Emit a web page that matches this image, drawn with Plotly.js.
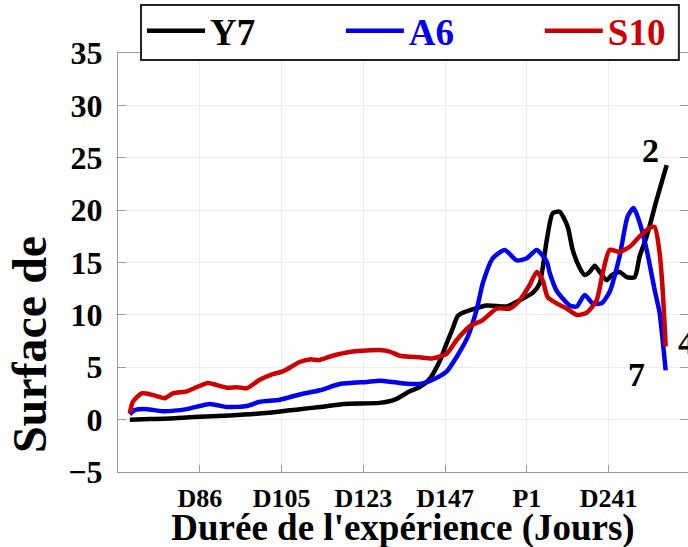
<!DOCTYPE html>
<html>
<head>
<meta charset="utf-8">
<script src="https://cdn.plot.ly/plotly-3.0.1.min.js"></script>
<style>html,body{margin:0;padding:0;background:#fff;overflow:hidden;}#chart{width:688px;height:549px;}</style>
</head>
<body>
<div id="chart"></div>
<script>
// Tick positions and labels (sampling days)
const tickPositions = [1, 2, 3, 4, 5, 6];
const tickLabels = ['D86', 'D105', 'D123', 'D147', 'P1', 'D241'];

// Series Y7 (black)
const xY7 = [0.144,0.389,0.633,0.927,1.367,1.844,2.222,2.467,2.760,3.200,3.384,3.567,3.689,3.812,3.934,4.020,4.093,4.154,4.215,4.509,4.753,4.912,5.071,5.156,5.242,5.315,5.401,5.499,5.560,5.645,5.707,5.768,5.829,5.890,5.976,6.037,6.134,6.220,6.318,6.379,6.465,6.587,6.709];
const yY7 = [0.0,0.05,0.1,0.25,0.4,0.65,1.0,1.2,1.5,1.6,1.9,2.7,3.1,3.9,5.6,7.3,8.7,9.9,10.2,10.9,10.8,11.4,12.1,13.0,17.1,19.7,19.85,18.4,16.2,14.5,13.8,14.1,14.7,14.1,13.3,13.8,14.1,13.6,13.6,15.6,17.5,21.0,24.3];

// Series A6 (blue)
const xA6 = [0.144,0.205,0.352,0.548,0.841,1.122,1.330,1.575,1.733,1.978,2.222,2.467,2.711,3.042,3.200,3.445,3.689,3.848,4.020,4.142,4.276,4.386,4.460,4.582,4.729,4.875,4.998,5.120,5.242,5.279,5.364,5.523,5.609,5.707,5.804,5.914,6.012,6.134,6.232,6.306,6.379,6.465,6.562,6.623,6.660,6.697];
const yA6 = [0.5,0.9,1.0,0.8,1.0,1.5,1.2,1.3,1.7,1.9,2.4,2.8,3.4,3.6,3.7,3.5,3.4,3.8,4.6,6.0,7.9,10.5,13.0,15.4,16.2,15.2,15.4,16.2,15.1,14.0,12.3,10.9,10.8,11.9,11.1,11.1,12.2,15.6,19.4,20.2,18.8,16.2,12.4,10.2,7.6,4.7];

// Series S10 (red)
const xS10 = [0.144,0.181,0.291,0.425,0.572,0.670,0.841,0.963,1.098,1.208,1.330,1.452,1.575,1.733,1.892,2.015,2.222,2.345,2.467,2.626,2.870,3.200,3.323,3.445,3.689,3.848,4.020,4.142,4.301,4.460,4.631,4.790,4.912,5.034,5.120,5.193,5.254,5.364,5.487,5.609,5.731,5.853,5.927,6.012,6.134,6.257,6.379,6.501,6.562,6.623,6.660,6.697];
const yS10 = [0.6,1.7,2.5,2.35,2.05,2.5,2.7,3.1,3.5,3.3,3.05,3.1,3.0,3.8,4.35,4.6,5.5,5.75,5.7,6.1,6.5,6.65,6.5,6.1,5.95,5.85,6.3,7.6,8.9,9.5,10.6,10.6,11.4,12.85,14.1,13.3,11.7,11.1,10.6,10.0,10.2,11.4,14.0,16.2,16.0,16.5,17.5,18.3,18.4,15.9,12.4,7.0];

// End-of-line labels
const endLabels = ['2', '4', '7'];
const endLabelX = [6.513, 6.954, 6.342];
const endLabelY = [25.7, 7.4, 4.3];

const serif = '"Liberation Serif", "Times New Roman", serif';

const traces = [
  {x: xY7, y: yY7, name: '<span style="color:#000000">Y7</span>', legend: 'legend', mode: 'lines', line: {color: '#000000', width: 4.5, shape: 'spline', smoothing: 0.6}},
  {x: xA6, y: yA6, name: '<span style="color:#0000ee">A6</span>', legend: 'legend2', mode: 'lines', line: {color: '#0000ee', width: 4.5, shape: 'spline', smoothing: 0.6}},
  {x: xS10, y: yS10, name: '<span style="color:#cc0000">S10</span>', legend: 'legend3', mode: 'lines', line: {color: '#cc0000', width: 4.5, shape: 'spline', smoothing: 0.6}}
];

const annotations = endLabels.map((t, i) => ({
  x: endLabelX[i], y: endLabelY[i], xref: 'x', yref: 'y', text: t, showarrow: false,
  xanchor: 'center', yanchor: 'middle',
  font: {family: serif, size: 34, color: '#000', weight: 'bold'}
}));
annotations.push({
  x: -0.156, y: 0.303, xref: 'paper', yref: 'paper', text: 'Surface de', textangle: -90,
  xanchor: 'center', yanchor: 'middle',
  showarrow: false, font: {family: serif, size: 48, color: '#000', weight: 'bold'}
});

function legendAt(xp) {
  return {
    orientation: 'h', x: xp, y: 1.052, xanchor: 'left', yanchor: 'middle',
    bgcolor: 'rgba(0,0,0,0)', borderwidth: 0,
    font: {family: serif, size: 37, color: '#000', weight: 'bold'},
    itemwidth: 58
  };
}

const layout = {
  width: 688, height: 549,
  margin: {l: 118, r: 0, t: 53, b: 77, pad: 0},
  paper_bgcolor: '#fff', plot_bgcolor: '#fff',
  showlegend: true,
  legend: legendAt(0.0421),
  legend2: legendAt(0.391),
  legend3: legendAt(0.740),
  shapes: [{
    type: 'rect', xref: 'paper', yref: 'paper', layer: 'above',
    x0: 0.0404, x1: 0.984, y0: 0.983, y1: 1.1146,
    line: {color: '#222', width: 2}, fillcolor: '#fff'
  }],
  xaxis: {
    range: [0, 6.97], tickvals: tickPositions, ticktext: tickLabels,
    showgrid: true, gridcolor: '#ececec', gridwidth: 1,
    showline: true, linecolor: '#9a9a9a', linewidth: 1, mirror: 'ticks',
    ticks: 'inside', ticklen: 7, tickcolor: '#9a9a9a', ticklabelstandoff: 3,
    zeroline: false,
    tickfont: {family: serif, size: 26, color: '#000', weight: 'bold'},
    title: {text: "Durée de l'expérience (Jours)", standoff: 7, font: {family: serif, size: 37, color: '#000', weight: 'bold'}}
  },
  yaxis: {
    range: [-5, 35], dtick: 5, tick0: 0,
    showgrid: true, gridcolor: '#ececec', gridwidth: 1,
    showline: true, linecolor: '#9a9a9a', linewidth: 1, mirror: 'ticks',
    ticks: 'inside', ticklen: 8, tickcolor: '#9a9a9a', ticklabelstandoff: 8,
    zeroline: false,
    tickfont: {family: serif, size: 32, color: '#000', weight: 'bold'}
  },
  annotations: annotations
};

Plotly.newPlot('chart', traces, layout, {displayModeBar: false, staticPlot: true});
</script>
</body>
</html>
